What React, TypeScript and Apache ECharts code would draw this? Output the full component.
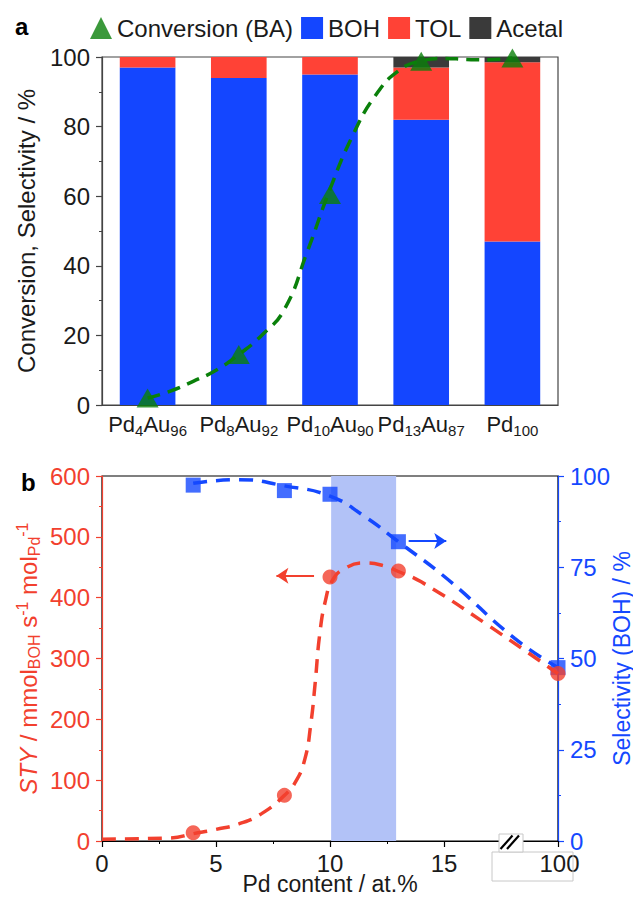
import React, { useEffect, useRef } from "react";
import * as echarts from "echarts";

// ---------- Panel a data ----------
const categories = ["Pd4Au96", "Pd8Au92", "Pd10Au90", "Pd13Au87", "Pd100"];
const selBOH_a = [97, 94, 95, 82, 47];
const selTOL_a = [3, 6, 5, 15, 51.5];
const selAcetal_a = [0, 0, 0, 3, 1.5];
const conversionBA = [2, 14.5, 60.5, 98.8, 99.7];
const yTicksA = { min: 0, max: 100, interval: 20 };
// dashed guide curve through the conversion points (position in category units, value in %)
const convFitPos = [0.5, 0.75, 1.0, 1.25, 1.5, 1.75, 2.0, 2.25, 2.5, 2.75, 3.0, 3.25, 3.5, 3.75, 4.0, 4.25, 4.5];
const convFitVal = [2, 4, 6.8, 10, 14.5, 20, 27.5, 44, 62, 77.5, 89, 96, 98.9, 99.6, 99.3, 99.2, 99.7];

// ---------- Panel b data ----------
const pdContent = [4, 8, 10, 13, 100]; // at.%
const styValues = [13.5, 75, 434, 444, 275.5];
const selBOH_b = [97.5, 96, 95, 82, 47.5];
// dashed guide curves
const styFitX = [0, 3, 4, 5, 6, 7, 8, 8.5, 8.9, 9.15, 9.35, 9.55, 9.8, 10.1, 10.6, 11.5, 12.4, 13, 14, 16.8, 100];
const styFitY = [3, 5, 12, 19, 28, 45, 75, 98, 135, 190, 260, 340, 395, 428, 447, 457, 452, 443, 426, 358, 275];
const selFitX = [4, 6, 8, 10, 11.5, 13, 15.2, 18.1, 100];
const selFitY = [98, 99, 97.3, 94.5, 89, 82, 71.5, 55.5, 47.5];
const bandRange = [10.05, 12.9];
const xTickLabelsB = ["0", "5", "10", "15", "100"];
const styArrow = { from: 9.3, to: 7.65, y: 436 };
const selArrow = { from: 13.45, to: 15.1, y: 82.2 };

// broken axis: everything beyond 20 is drawn at the right end (labelled 100)
const BREAK_END = 20;
const toAxis = (v: number) => (v > BREAK_END ? BREAK_END : v);

const FONT = '"Liberation Sans", Arial, Helvetica, sans-serif';
const RED = "#f2402e";
const BLUE = "#1448ff";
const GREEN = "#0a800a";
const TXT = "#1a1a1a";

const subRich = (s: string) =>
  s
    .split(/(\d+)/)
    .filter(Boolean)
    .map((t) => (/^\d+$/.test(t) ? `{s|${t}}` : `{m|${t}}`))
    .join("");

export default function App() {
  const ref = useRef<HTMLDivElement>(null);
  useEffect(() => {
    if (!ref.current) return;
    const chart = echarts.init(ref.current, null, { renderer: "svg" });
    const axisFont = { fontFamily: FONT, fontSize: 24 };
    const option: any = {
      animation: false,
      textStyle: { fontFamily: FONT },
      legend: {
        left: 85,
        top: 11,
        itemWidth: 22,
        itemHeight: 22,
        itemGap: 8,
        textStyle: { fontFamily: FONT, fontSize: 24, color: TXT },
        data: [
          { name: "Conversion (BA)", icon: "triangle" },
          { name: "BOH", icon: "rect" },
          { name: "TOL", icon: "rect" },
          { name: "Acetal", icon: "rect" },
        ],
      },
      grid: [
        { left: 102, top: 57, width: 456, height: 348, outerBoundsMode: "none", containLabel: false, show: true, borderColor: "#444", borderWidth: 1.2, backgroundColor: "transparent" },
        { left: 102, top: 476, width: 456, height: 365, outerBoundsMode: "none", containLabel: false, show: true, borderColor: "#000", borderWidth: 1.2, backgroundColor: "transparent" },
      ],
      xAxis: [
        {
          type: "category",
          gridIndex: 0,
          data: categories,
          axisTick: { show: false },
          axisLine: { lineStyle: { color: "#444", width: 1.2 } },
          axisLabel: {
            interval: 0,
            margin: 5,
            formatter: (v: string) => subRich(v),
            rich: {
              m: { fontFamily: FONT, fontSize: 22, lineHeight: 28, color: TXT },
              s: { fontFamily: FONT, fontSize: 15, lineHeight: 15, verticalAlign: "bottom", color: TXT },
            },
          },
        },
        {
          type: "value",
          gridIndex: 1,
          min: 0,
          max: BREAK_END,
          interval: 5,
          splitLine: { show: false },
          axisLine: { onZero: false, lineStyle: { color: "#000", width: 1.2 } },
          axisTick: { inside: false, length: 6, lineStyle: { color: "#000", width: 1.2 } },
          minorTick: { show: true, splitNumber: 2, length: 3, lineStyle: { color: "#000", width: 1 } },
          axisLabel: {
            margin: 12,
            color: TXT,
            ...axisFont,
            lineHeight: 20,
            formatter: (v: number) => {
              const lbl = xTickLabelsB[Math.round(v / 5)];
              return v === BREAK_END ? `{r|${lbl}}` : lbl;
            },
            rich: { r: { fontFamily: FONT, fontSize: 24, lineHeight: 20, color: TXT, padding: [0, 0, 0, 3] } },
          },
          name: "Pd content / at.%",
          nameLocation: "middle",
          nameGap: 33,
          nameMoveOverlap: false,
          nameTextStyle: { fontFamily: FONT, fontSize: 23, lineHeight: 20, color: TXT },
        },
        {
          type: "value",
          gridIndex: 0,
          min: 0,
          max: 5,
          show: false,
        },
      ],
      yAxis: [
        {
          type: "value",
          gridIndex: 0,
          ...yTicksA,
          splitLine: { show: false },
          axisLine: { show: true, lineStyle: { color: "#444", width: 1.2 } },
          axisTick: { show: true, inside: false, length: 6, lineStyle: { color: "#444", width: 1.2 } },
          minorTick: { show: true, splitNumber: 2, length: 3, lineStyle: { color: "#444", width: 1 } },
          axisLabel: { margin: 12, color: TXT, ...axisFont },
          name: "Conversion, Selectivity / %",
          nameLocation: "middle",
          nameRotate: 90,
          nameGap: 64,
          nameMoveOverlap: false,
          nameTextStyle: { fontFamily: FONT, fontSize: 24, color: TXT },
        },
        {
          type: "value",
          gridIndex: 1,
          position: "left",
          min: 0,
          max: 600,
          interval: 100,
          splitLine: { show: false },
          axisLine: { show: true, lineStyle: { color: RED, width: 1.2 } },
          axisTick: { show: true, inside: false, length: 6, lineStyle: { color: RED, width: 1.2 } },
          minorTick: { show: true, splitNumber: 2, length: 3, lineStyle: { color: RED, width: 1 } },
          axisLabel: { margin: 12, color: RED, ...axisFont },
          name: "{i|STY}{n| / mmol}{s|BOH}{n| s}{p|-1}{n| mol}{s|Pd}{p|-1}",
          nameLocation: "middle",
          nameRotate: 90,
          nameGap: 60,
          nameMoveOverlap: false,
          nameTextStyle: {
            color: RED,
            rich: {
              i: { fontFamily: FONT, fontSize: 24, fontStyle: "italic", color: RED, lineHeight: 28 },
              n: { fontFamily: FONT, fontSize: 24, color: RED, lineHeight: 28 },
              s: { fontFamily: FONT, fontSize: 16, color: RED, lineHeight: 16, verticalAlign: "bottom" },
              p: { fontFamily: FONT, fontSize: 16, color: RED, lineHeight: 16, verticalAlign: "top" },
            },
          },
        },
        {
          type: "value",
          gridIndex: 1,
          position: "right",
          min: 0,
          max: 100,
          interval: 25,
          splitLine: { show: false },
          axisLine: { show: true, lineStyle: { color: BLUE, width: 1.2 } },
          axisTick: { show: true, inside: false, length: 6, lineStyle: { color: BLUE, width: 1.2 } },
          minorTick: { show: true, splitNumber: 2, length: 3, lineStyle: { color: BLUE, width: 1 } },
          axisLabel: { margin: 12, color: BLUE, ...axisFont, lineHeight: 20 },
          name: "Selectivity (BOH) / %",
          nameLocation: "middle",
          nameRotate: 90,
          nameGap: 52,
          nameMoveOverlap: false,
          nameTextStyle: { fontFamily: FONT, fontSize: 23, color: BLUE },
        },
      ],
      graphic: [
        { type: "text", left: 15, top: 14, style: { text: "a", font: `bold 24px ${FONT}`, fill: "#000" } },
        { type: "text", left: 21, top: 470, style: { text: "b", font: `bold 24px ${FONT}`, fill: "#000" } },
        { type: "rect", z: 100, shape: { x: 492, y: 852, width: 81, height: 29 }, style: { fill: "none", stroke: "#c8c8c8", lineWidth: 1 } },
        { type: "rect", z: 100, shape: { x: 499, y: 834, width: 24, height: 18 }, style: { fill: "#fff", stroke: "#c8c8c8", lineWidth: 1 } },
        { type: "line", z: 101, shape: { x1: 500.5, y1: 849, x2: 512.5, y2: 835.5 }, style: { stroke: "#000", lineWidth: 2.2 } },
        { type: "line", z: 101, shape: { x1: 507, y1: 849, x2: 519, y2: 835.5 }, style: { stroke: "#000", lineWidth: 2.2 } },
      ],
      series: [
        {
          name: "BOH",
          type: "bar",
          xAxisIndex: 0,
          yAxisIndex: 0,
          stack: "sel",
          barWidth: "61%",
          itemStyle: { color: "#1446ff" },
          data: selBOH_a,
        },
        {
          name: "TOL",
          type: "bar",
          xAxisIndex: 0,
          yAxisIndex: 0,
          stack: "sel",
          barWidth: "61%",
          itemStyle: { color: "#ff4236" },
          data: selTOL_a,
        },
        {
          name: "Acetal",
          type: "bar",
          xAxisIndex: 0,
          yAxisIndex: 0,
          stack: "sel",
          barWidth: "61%",
          itemStyle: { color: "#3a3a3a" },
          data: selAcetal_a,
        },
        {
          name: "convFit",
          type: "line",
          xAxisIndex: 2,
          yAxisIndex: 0,
          z: 4,
          data: convFitPos.map((p, i) => [p, convFitVal[i]]),
          smooth: 0.5,
          showSymbol: false,
          symbol: "none",
          silent: true,
          lineStyle: { color: GREEN, width: 3.5, type: [13, 8] },
        },
        {
          name: "Conversion (BA)",
          type: "scatter",
          xAxisIndex: 0,
          yAxisIndex: 0,
          z: 5,
          data: conversionBA,
          symbol: "triangle",
          symbolSize: [22, 19],
          clip: false,
          itemStyle: { color: GREEN },
        },
        {
          name: "band",
          type: "line",
          xAxisIndex: 1,
          yAxisIndex: 1,
          z: 1,
          data: [],
          silent: true,
          markArea: {
            silent: true,
            itemStyle: { color: "#b2c2f7" },
            data: [[{ xAxis: bandRange[0] }, { xAxis: bandRange[1] }]],
          },
        },
        {
          name: "selFit",
          type: "line",
          xAxisIndex: 1,
          yAxisIndex: 2,
          z: 3,
          data: selFitX.map((x, i) => [toAxis(x), selFitY[i]]),
          smooth: 0.5,
          showSymbol: false,
          symbol: "none",
          lineStyle: { color: BLUE, width: 3.5, type: [14, 9] },
          markLine: {
            silent: true,
            symbol: ["none", "arrow"],
            symbolSize: 12,
            label: { show: false },
            lineStyle: { color: BLUE, width: 2, type: "solid" },
            data: [[{ coord: [selArrow.from, selArrow.y] }, { coord: [selArrow.to, selArrow.y] }]],
          },
        },
        {
          name: "selPoints",
          type: "scatter",
          xAxisIndex: 1,
          yAxisIndex: 2,
          z: 4,
          clip: false,
          symbol: "rect",
          symbolSize: 15,
          itemStyle: { color: BLUE },
          data: pdContent.map((x, i) => [toAxis(x), selBOH_b[i]]),
        },
        {
          name: "styFit",
          type: "line",
          xAxisIndex: 1,
          yAxisIndex: 1,
          z: 5,
          data: styFitX.map((x, i) => [toAxis(x), styFitY[i]]),
          smooth: 0.5,
          showSymbol: false,
          symbol: "none",
          lineStyle: { color: RED, width: 3.5, type: [14, 9] },
          markLine: {
            silent: true,
            symbol: ["none", "arrow"],
            symbolSize: 12,
            label: { show: false },
            lineStyle: { color: RED, width: 2, type: "solid" },
            data: [[{ coord: [styArrow.from, styArrow.y] }, { coord: [styArrow.to, styArrow.y] }]],
          },
        },
        {
          name: "styPoints",
          type: "scatter",
          xAxisIndex: 1,
          yAxisIndex: 1,
          z: 6,
          clip: false,
          symbol: "circle",
          symbolSize: 15,
          itemStyle: { color: RED },
          data: pdContent.map((x, i) => [toAxis(x), styValues[i]]),
        },
      ],
    };
    chart.setOption(option);
    return () => chart.dispose();
  }, []);
  return (
    <div
      ref={ref}
      style={{ position: "absolute", left: 0, top: 0, width: 633, height: 897, background: "#fff" }}
    />
  );
}
